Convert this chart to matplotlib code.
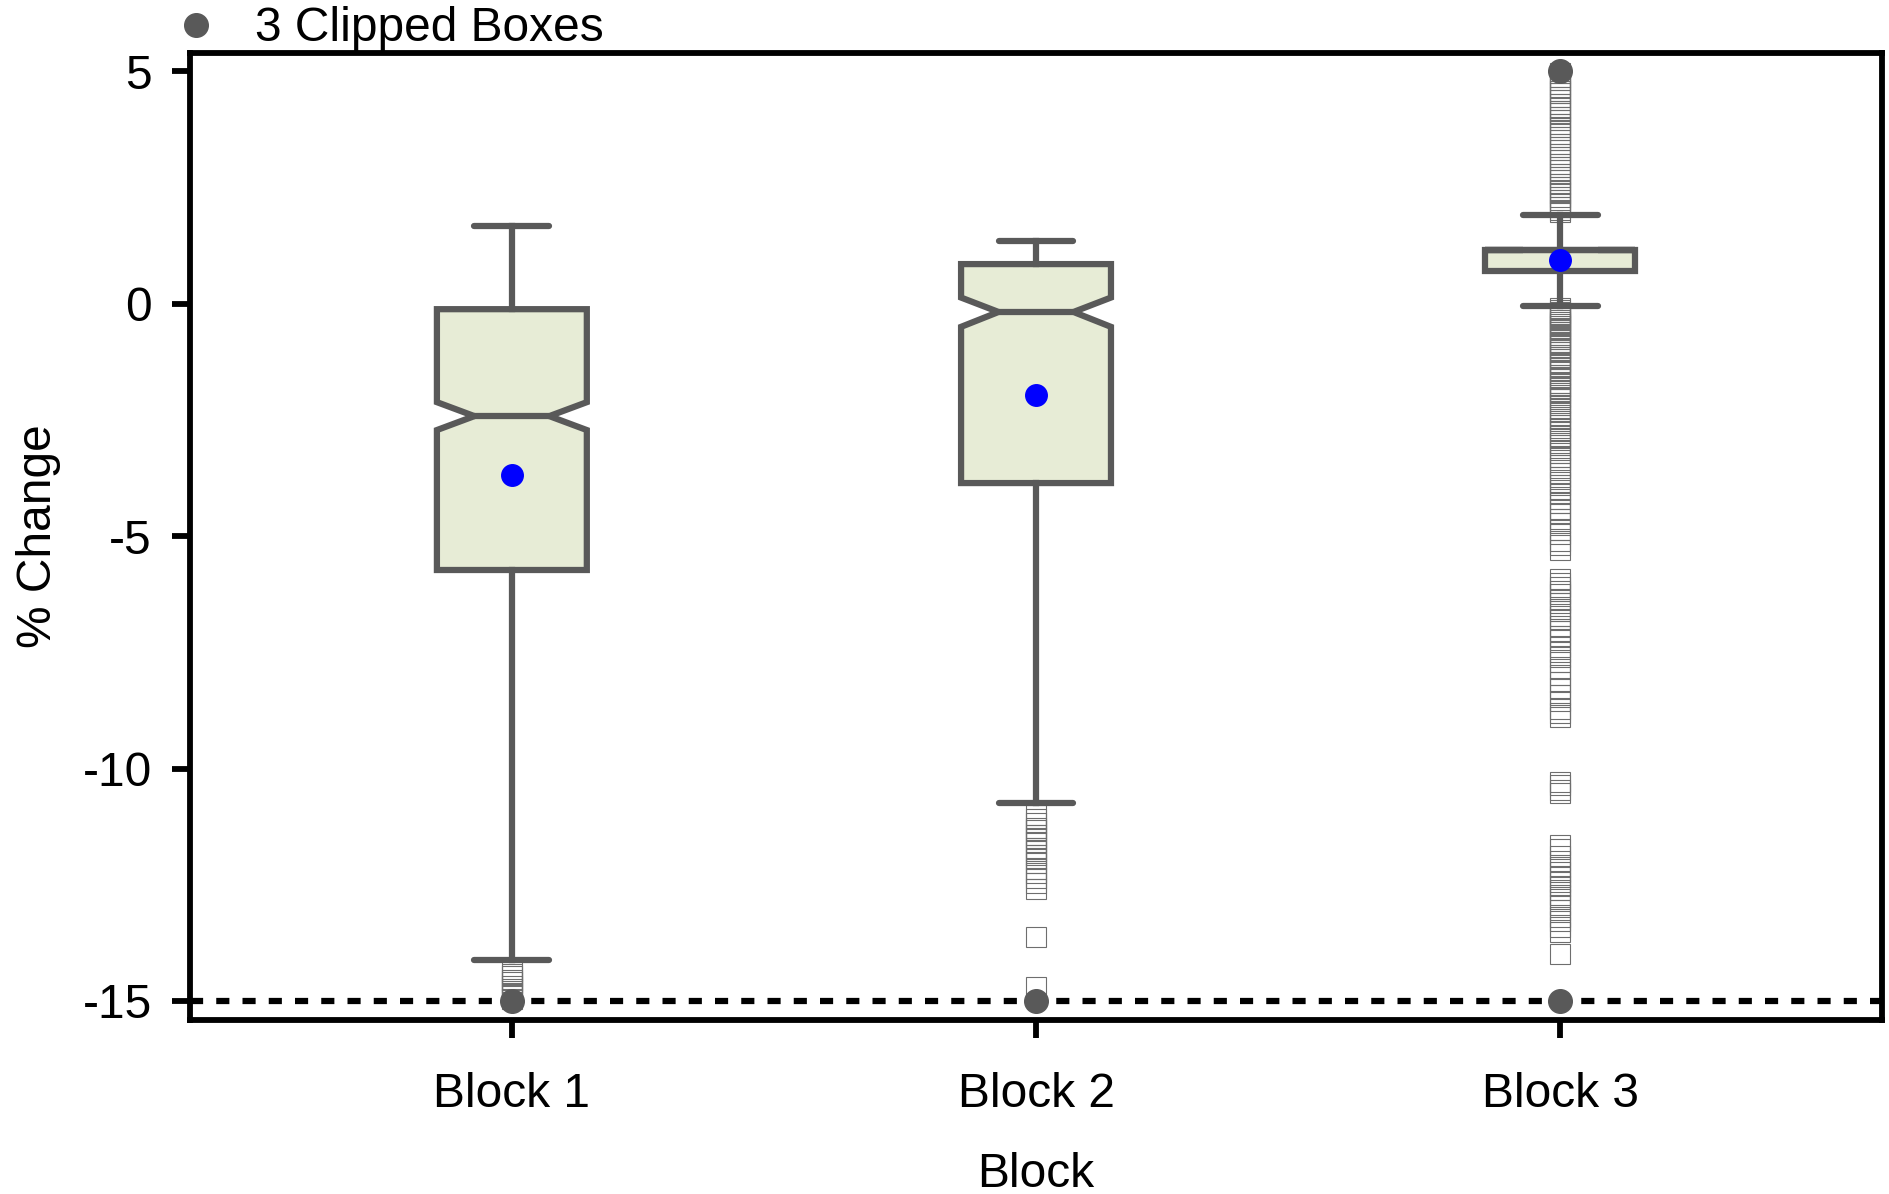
import matplotlib
matplotlib.use("Agg")
import matplotlib.pyplot as plt
from matplotlib.lines import Line2D
import numpy as np

plt.rcParams['font.family'] = ['Liberation Sans', 'DejaVu Sans']

blocks = ['Block 1', 'Block 2', 'Block 3']
whislo = [-14.12, -10.74, -0.05]
q1 = [-5.73, -3.86, 0.70]
med = [-2.42, -0.18, 1.15]
q3 = [-0.12, 0.85, 1.15]
whishi = [1.66, 1.34, 1.90]
cilo = [-2.72, -0.50, 1.15]
cihi = [-2.12, 0.13, 1.15]
means = [-3.68, -1.97, 0.94]

fliers_1 = [-14.35, -14.42, -14.47, -14.55, -14.60, -14.68, -14.74, -14.82, -14.88, -14.95]
fliers_2 = [-11.00, -11.08, -11.18, -11.27, -11.33, -11.44, -11.50, -11.58, -11.70, -11.78,
            -11.85, -11.95, -12.04, -12.16, -12.24, -12.35, -12.46, -12.59, -13.62, -14.70]
fliers_3 = [4.96, 4.87, 4.80, 4.73, 4.66, 4.57, 4.52, 4.44, 4.37, 4.30, 4.21, 4.15, 4.09,
            4.01, 3.95, 3.87, 3.79, 3.73, 3.65, 3.58, 3.51, 3.44, 3.37, 3.31, 3.22, 3.16,
            3.09, 3.00, 2.93, 2.87, 2.79, 2.73, 2.65, 2.58, 2.51, 2.43, 2.37, 2.29, 2.22,
            2.16, 2.08, 2.02, 1.96,
            -0.10, -0.13, -0.18, -0.23, -0.26, -0.31, -0.36, -0.40, -0.43, -0.49, -0.54,
            -0.57, -0.62, -0.68, -0.71, -0.76, -0.82, -0.85, -0.90, -0.96, -1.00, -1.04,
            -1.11, -1.15, -1.19, -1.26, -1.30, -1.37, -1.42, -1.46, -1.53, -1.59, -1.63,
            -1.70, -1.77, -1.81, -1.88, -1.93, -2.01, -2.06, -2.14, -2.19, -2.27, -2.33,
            -2.39, -2.48, -2.53, -2.62, -2.68, -2.75, -2.84, -2.90, -2.99, -3.05, -3.15,
            -3.21, -3.31, -3.37, -3.48, -3.54, -3.65, -3.72, -3.83, -3.90, -4.01, -4.09,
            -4.21, -4.29, -4.41, -4.50, -4.63, -4.72, -4.86, -4.96, -5.10, -5.19, -5.30,
            -5.92, -6.01, -6.09, -6.19, -6.24, -6.37, -6.43, -6.56, -6.61, -6.71, -6.79,
            -6.93, -7.04, -7.15, -7.24, -7.39, -7.49, -7.61, -7.71, -7.86, -7.99, -8.13,
            -8.27, -8.41, -8.54, -8.71, -8.80, -8.89,
            -10.29, -10.36, -10.46, -10.53,
            -11.65, -11.74, -11.88, -12.00, -12.11, -12.23, -12.34, -12.44, -12.53, -12.61,
            -12.71, -12.80, -12.93, -13.04, -13.19, -13.29, -13.41, -13.52, -13.99]
fliers = [fliers_1, fliers_2, fliers_3]

clip_x = [1, 2, 3, 3]
clip_y = [-15, -15, -15, 5]

yticks = [5, 0, -5, -10, -15]
ytick_labels = ['5', '0', '-5', '-10', '-15']

gray = '#595959'
lw = 4.5
fs = 34.5

stats = []
for i in range(3):
    stats.append(dict(label=blocks[i], whislo=whislo[i], q1=q1[i], med=med[i],
                      q3=q3[i], whishi=whishi[i], cilo=cilo[i], cihi=cihi[i],
                      mean=means[i], fliers=fliers[i]))

fig = plt.figure(figsize=(18.89, 11.94), dpi=100)
ax = fig.add_axes([0.1006, 0.1457, 0.8957, 0.8099])

ax.bxp(stats, positions=[1, 2, 3], widths=0.286, shownotches=True, showmeans=True,
       patch_artist=True,
       boxprops=dict(facecolor='#e7ecd6', edgecolor=gray, linewidth=lw),
       whiskerprops=dict(color=gray, linewidth=lw, zorder=3),
       capprops=dict(color=gray, linewidth=lw, solid_capstyle='round', zorder=3),
       medianprops=dict(color=gray, linewidth=lw),
       flierprops=dict(marker='s', markerfacecolor='none', markeredgecolor='#6e6e6e',
                       markersize=15, markeredgewidth=0.8, zorder=2),
       meanprops=dict(marker='o', markerfacecolor='blue', markeredgecolor='blue',
                      markersize=15.5, zorder=5))

ax.axhline(-15, color='black', linewidth=4.5, linestyle=(0, (2.1, 2.1)), zorder=4)
ax.plot(clip_x, clip_y, linestyle='', marker='o', color=gray, markersize=17,
        clip_on=False, zorder=6)

ax.set_xlim(0.386, 3.614)
ax.set_ylim(-15.41, 5.39)
ax.set_yticks(yticks)
ax.set_yticklabels(ytick_labels)
ax.set_xticks([1, 2, 3])
ax.set_xticklabels(blocks)

for s in ax.spines.values():
    s.set_linewidth(4.2)
    s.set_color('black')
ax.tick_params(axis='both', direction='out', length=13, width=4.2, labelsize=fs,
               color='black')
ax.tick_params(axis='x', pad=24.5)
ax.tick_params(axis='y', pad=14.6)

ax.set_xlabel('Block', fontsize=fs, labelpad=25)
ax.set_ylabel('% Change', fontsize=fs, labelpad=15.7)

handle = Line2D([], [], marker='o', linestyle='', color=gray, markersize=17)
fig.legend(handles=[handle], labels=['3 Clipped Boxes'], loc='upper left',
           bbox_to_anchor=(0.0911, 0.9946), frameon=False, fontsize=fs,
           handlelength=1.0, handletextpad=0.73, borderpad=0, borderaxespad=0)

fig.savefig('out.png', dpi=100)
